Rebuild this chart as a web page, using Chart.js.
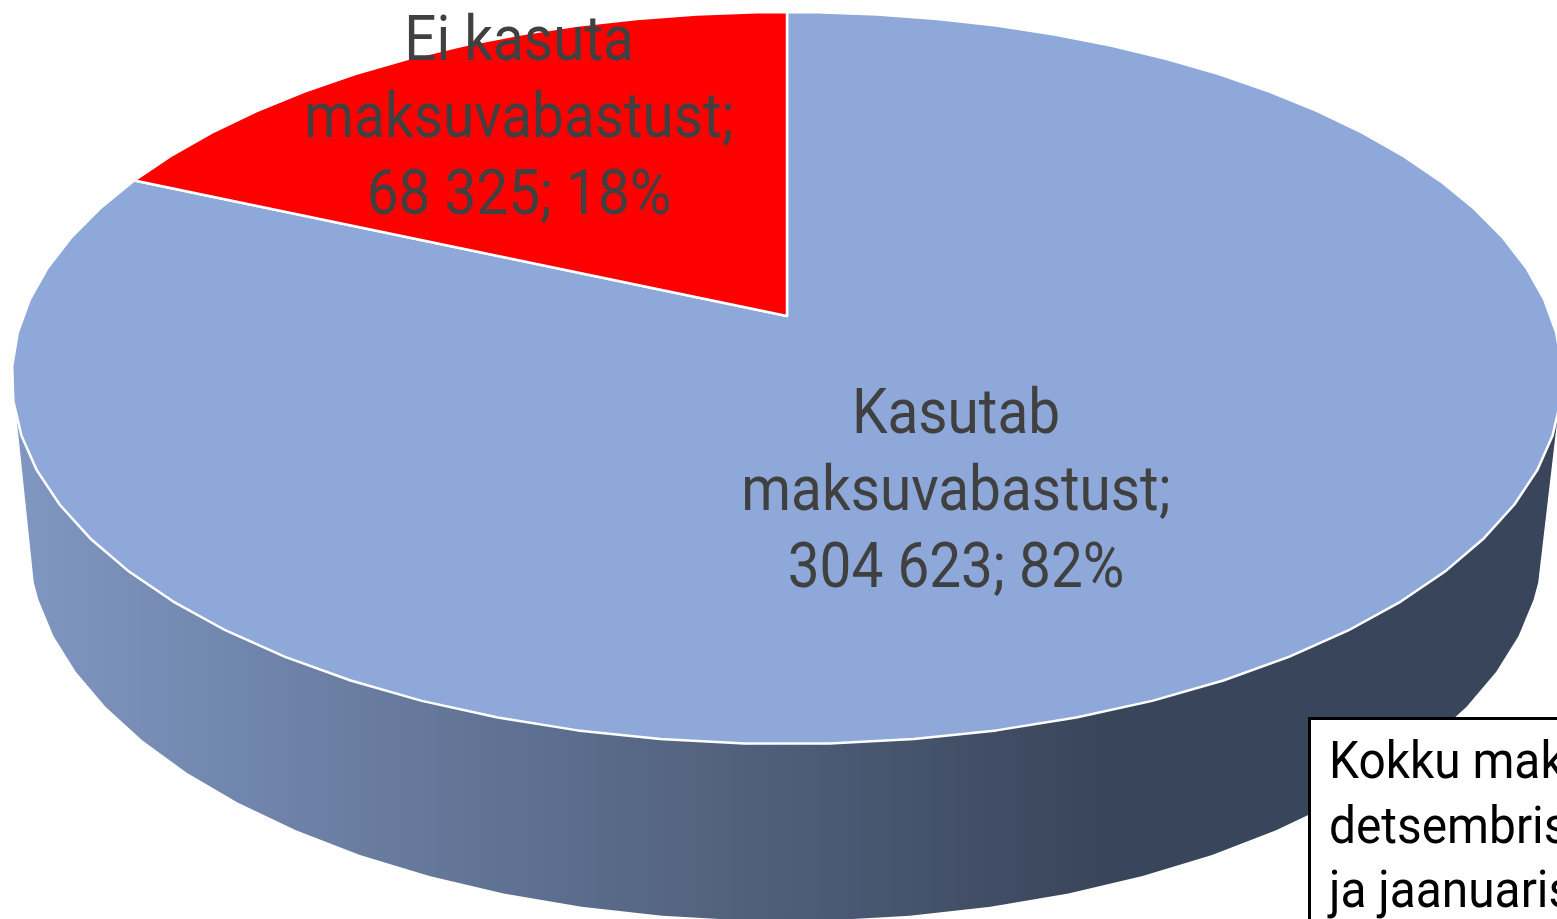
<!DOCTYPE html>
<html>
<head>
<meta charset="utf-8">
<title>Maksuvabastus</title>
<script src="https://cdn.jsdelivr.net/npm/chart.js@4"></script>
<style>
  html, body { margin: 0; padding: 0; background: #fff; overflow: hidden; }
  #wrap { position: relative; width: 1557px; height: 919px; overflow: hidden; }
  #note {
    position: absolute; left: 1308px; top: 717px; width: 300px; height: 260px;
    box-sizing: border-box; border: 3px solid #000; background: #fff;
    font-family: Roboto, sans-serif; font-size: 52px; line-height: 64.5px; color: #000;
  }
  #note div { position: absolute; left: 18px; white-space: nowrap; transform: scaleX(0.92); transform-origin: left top; }
</style>
</head>
<body>
<div id="wrap">
  <canvas id="pie" width="1557" height="919"></canvas>
  <div id="note"></div>
</div>
<script>
const categories = ["Kasutab maksuvabastust", "Ei kasuta maksuvabastust"];
const categoryLines = [["Kasutab", "maksuvabastust;"], ["Ei kasuta", "maksuvabastust;"]];
const values = [304623, 68325];
const percents = [82, 18];
const sliceColors = ["#8ea8d9", "#ff0000"];
const noteLines = ["Kokku mak", "detsembris", "ja jaanuaris"];

// label anchor per slice: centre x, first baseline
const labelPos = [[956, 433], [519, 60]];

// perspective squeeze of the circle, top face and bottom rim
const tilt = -0.1694;
const topFace = { x: 787, y: 316, rx: 764, ry: 355.5 };
const bottomRim = { x: 786, y: 475.5, rx: 746, ry: 370 };
const wallFrom = 16 * Math.PI / 180;
const wallTo = 164 * Math.PI / 180;

function project(face, angle) {
  const u = Math.cos(angle);
  const v = Math.sin(angle);
  const w = 1 + tilt * v;
  return [face.x + face.rx * u / w, face.y + face.ry * v / w];
}

// the reference outline is a polygon of about 68 sides, symmetric around the bottom
function rimAngles(from, to) {
  const step = Math.PI / 34;
  const list = [from];
  let a = Math.ceil((from - step / 2) / step) * step + step / 2;
  while (a < to) {
    if (a > from) list.push(a);
    a += step;
  }
  list.push(to);
  return list;
}

function drawWall(ctx) {
  const grad = ctx.createLinearGradient(14, 0, 1100, 0);
  grad.addColorStop(0, "#8097c2");
  grad.addColorStop(1, "#39455a");
  const angles = rimAngles(wallFrom, wallTo);
  ctx.beginPath();
  angles.forEach(a => {
    const p = project(topFace, a);
    ctx.lineTo(p[0], p[1]);
  });
  angles.slice().reverse().forEach(a => {
    const p = project(bottomRim, a);
    ctx.lineTo(p[0], p[1]);
  });
  ctx.closePath();
  ctx.fillStyle = grad;
  ctx.fill();
}

function drawSlice(ctx, arc, color) {
  ctx.beginPath();
  ctx.moveTo(topFace.x, topFace.y);
  rimAngles(arc.startAngle, arc.endAngle).forEach(a => {
    const p = project(topFace, a);
    ctx.lineTo(p[0], p[1]);
  });
  ctx.closePath();
  ctx.fillStyle = color;
  ctx.fill();
  ctx.strokeStyle = "#fff";
  ctx.lineWidth = 2.5;
  ctx.lineJoin = "round";
  ctx.stroke();
}

function groupValue(n) {
  return String(n).replace(/\B(?=(\d{3})+$)/g, " ");
}

const tiltedPie = {
  id: "tiltedPie",
  beforeDatasetDraw(chart, args) {
    const ctx = chart.ctx;
    ctx.save();
    drawWall(ctx);
    args.meta.data.forEach((arc, i) => drawSlice(ctx, arc, sliceColors[i]));
    ctx.restore();
    return false;
  },
  afterDatasetsDraw(chart) {
    const ctx = chart.ctx;
    ctx.save();
    ctx.fillStyle = "#404040";
    ctx.font = "63px Roboto";
    ctx.textAlign = "center";
    ctx.textBaseline = "alphabetic";
    categories.forEach((name, i) => {
      const lines = categoryLines[i].concat(`${groupValue(values[i])}; ${percents[i]}%`);
      lines.forEach((line, k) => {
        ctx.save();
        ctx.translate(labelPos[i][0], labelPos[i][1] + k * 77);
        ctx.scale(0.9, 1);
        ctx.fillText(line, 0, 0);
        ctx.restore();
      });
    });
    ctx.restore();
  }
};

new Chart(document.getElementById("pie").getContext("2d"), {
  type: "pie",
  data: {
    labels: categories,
    datasets: [{ data: values, backgroundColor: sliceColors, borderColor: "#fff", borderWidth: 2.5 }]
  },
  options: {
    responsive: false,
    animation: false,
    plugins: { legend: { display: false }, tooltip: { enabled: false } }
  },
  plugins: [tiltedPie]
});

const note = document.getElementById("note");
noteLines.forEach((text, i) => {
  const line = document.createElement("div");
  line.textContent = text;
  line.style.top = (9 + i * 64.5) + "px";
  note.appendChild(line);
});
</script>
</body>
</html>
